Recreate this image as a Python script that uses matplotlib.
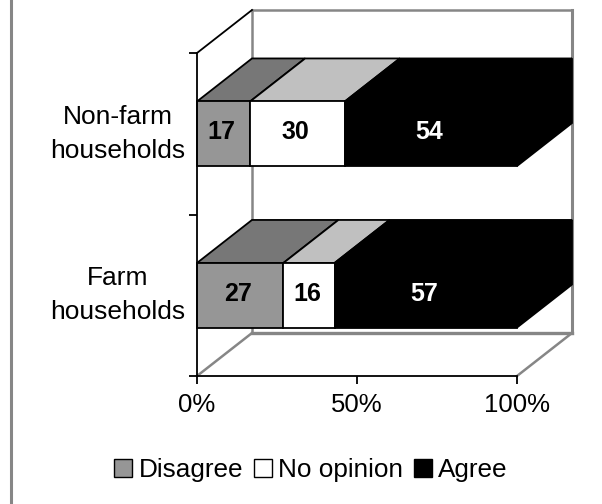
import matplotlib
matplotlib.use("Agg")
import matplotlib.pyplot as plt
from matplotlib.patches import Polygon, Patch
from matplotlib.lines import Line2D

plt.rcParams['font.family'] = ['Liberation Sans', 'DejaVu Sans']

categories = ["Farm\nhouseholds", "Non-farm\nhouseholds"]
series_names = ["Disagree", "No opinion", "Agree"]
disagree = [27, 16.6]
no_opinion = [16, 29.6]
agree = [57, 53.8]
x_ticks = [0, 50, 100]
x_tick_labels = ["0%", "50%", "100%"]

front_colors = ["#969696", "#FFFFFF", "#000000"]
top_colors = ["#777777", "#C0C0C0", "#000000"]
label_colors = ["#000000", "#000000", "#FFFFFF"]
wall_color = "#868686"

W, H = 602, 504
fig = plt.figure(figsize=(W / 100, H / 100), dpi=100, facecolor="white")
ax = fig.add_axes([197 / W, 1 - 376 / H, 320 / W, 323 / H])
ax.set_xlim(0, 100)
ax.set_ylim(0, 2)
ax.patch.set_visible(False)

# depth of the pseudo-3D box, in data units
DX = 55 / 320 * 100
DY = 43 / 161.5
BAR_H = 0.4


def depth(x, y, d=1.0):
    return (x + DX * d, y + DY * d)


def poly(pts, fc, ec="black", lw=1.3, z=3):
    ax.add_patch(Polygon(pts, closed=True, facecolor=fc, edgecolor=ec, linewidth=lw,
                         joinstyle="miter", clip_on=False, zorder=z))


def line(xs, ys, color=wall_color, lw=1.8, z=1):
    ax.add_line(Line2D(xs, ys, color=color, lw=lw, clip_on=False, zorder=z,
                       solid_capstyle="projecting"))


# walls and floor
bl, br = depth(0, 0), depth(100, 0)
tl, tr = depth(0, 2), depth(100, 2)
line([bl[0], br[0]], [bl[1], br[1]], lw=2.4)
line([tl[0], tr[0]], [tl[1], tr[1]])
line([bl[0], tl[0]], [bl[1], tl[1]])
line([br[0], tr[0]], [br[1], tr[1]], lw=2.2)
line([0, bl[0]], [0, bl[1]])
line([100, br[0]], [0, br[1]])
line([0, tl[0]], [2, tl[1]], color="black", lw=1.3, z=2)

# stacked bars, scaled to the full 100%
rows = list(zip(disagree, no_opinion, agree))
for i, row in enumerate(rows):
    y0, y1 = i + 0.5 - BAR_H / 2, i + 0.5 + BAR_H / 2
    left = 0
    for j, v in enumerate(row):
        right = left + v
        if j == len(row) - 1:
            poly([(right, y0), depth(right, y0), depth(right, y1), (right, y1)],
                 front_colors[j], ec=front_colors[j], z=3)
        poly([(left, y1), (right, y1), depth(right, y1), depth(left, y1)], top_colors[j], z=3)
        poly([(left, y0), (right, y0), (right, y1), (left, y1)], front_colors[j], z=4)
        ax.text((left + right) / 2 - 0.6, i + 0.51, f"{v:.0f}", ha="center", va="center",
                fontsize=18, fontweight="bold", color=label_colors[j], zorder=5)
        left = right

# axes
for s in ("top", "right"):
    ax.spines[s].set_visible(False)
for s in ("left", "bottom"):
    ax.spines[s].set_linewidth(1.3)
    ax.spines[s].set_zorder(6)
ax.set_xticks(x_ticks)
ax.set_xticklabels(x_tick_labels, fontsize=18.5)
ax.set_yticks([0, 1, 2])
ax.set_yticklabels([])
ax.set_yticks([0.5, 1.5], minor=True)
ax.set_yticklabels(categories, minor=True, fontsize=19, ha="center", va="center", linespacing=1.55)
ax.tick_params(axis="both", which="major", length=5.5, width=1.3, color="black")
ax.tick_params(axis="x", pad=6.5)
ax.tick_params(axis="y", which="minor", length=0, pad=57)

# legend
handles = [Patch(facecolor=c, edgecolor="black", linewidth=1.0) for c in front_colors]
fig.legend(handles, series_names, loc="center", bbox_to_anchor=(311 / W, 1 - 470 / H),
           ncol=3, frameon=False, fontsize=18.8, handlelength=0.68, handleheight=0.72,
           handletextpad=0.25, columnspacing=0.42, borderpad=0, borderaxespad=0)

# outer frame (left edge only)
fig.add_artist(Line2D([11.3 / W, 11.3 / W], [0, 1], color=wall_color, lw=2.2,
                      transform=fig.transFigure))

fig.savefig("out.png", dpi=100)
